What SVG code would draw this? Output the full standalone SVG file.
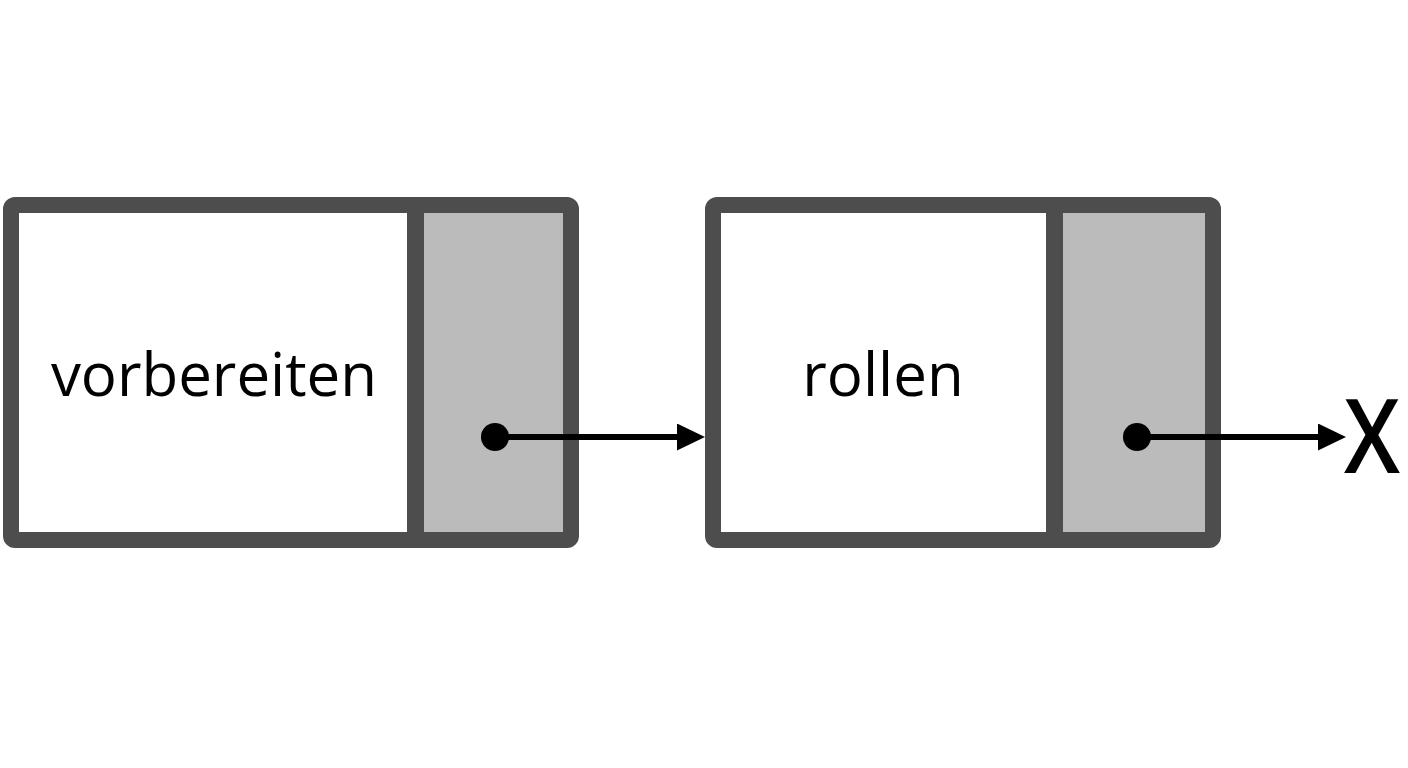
<svg xmlns="http://www.w3.org/2000/svg" width="1408" height="768" viewBox="0 0 1408 768">
  <style>
    .frame { fill: none; stroke: #4d4d4d; stroke-width: 16; stroke-linejoin: round; }
    .div { stroke: #4d4d4d; stroke-width: 17; }
    .ptr { fill: #bbbbbb; }
    .data { fill: #ffffff; }
    .lbl { font-family: "Open Sans", "Noto Sans", sans-serif; font-size: 60px; fill: #000; text-anchor: middle; }
    .edge { stroke: #000; stroke-width: 6; fill: none; }
  </style>
  <defs>
    <marker id="ah" markerUnits="userSpaceOnUse" markerWidth="28" markerHeight="28" refX="0" refY="13.5" orient="auto">
      <path d="M0,0 L28,13.5 L0,27 Z" fill="#000"/>
    </marker>
  </defs>
  <rect width="1408" height="768" fill="#ffffff"/>
  <g id="node-vorbereiten">
    <rect class="data" x="11" y="205" width="404" height="335"/>
    <rect class="ptr" x="415" y="205" width="156" height="335"/>
    <line class="div" x1="415.5" y1="205" x2="415.5" y2="540"/>
    <rect class="frame" x="11" y="205" width="560" height="335" rx="4"/>
    <text class="lbl" x="214" y="396">vorbereiten</text>
  </g>
  <g id="node-rollen">
    <rect class="data" x="713" y="205" width="342" height="335"/>
    <rect class="ptr" x="1055" y="205" width="158" height="335"/>
    <line class="div" x1="1054.5" y1="205" x2="1054.5" y2="540"/>
    <rect class="frame" x="713" y="205" width="500" height="335" rx="4"/>
    <text class="lbl" x="883" y="396">rollen</text>
  </g>
  <g id="null">
    <text x="1344" y="473" font-family="Open Sans, Noto Sans, sans-serif" font-size="104" font-weight="600" fill="#000" textLength="56" lengthAdjust="spacingAndGlyphs">X</text>
  </g>
  <g id="connectors">
    <circle cx="495" cy="437" r="14" fill="#000"/>
    <line class="edge" x1="495" y1="437" x2="677" y2="437" marker-end="url(#ah)"/>
    <circle cx="1137" cy="437" r="14" fill="#000"/>
    <line class="edge" x1="1137" y1="437" x2="1318" y2="437" marker-end="url(#ah)"/>
  </g>
</svg>
